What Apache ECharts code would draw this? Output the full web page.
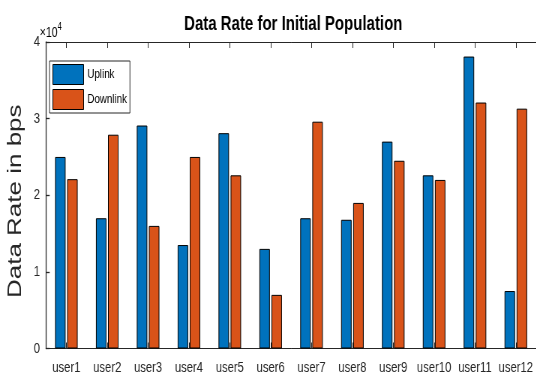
<!DOCTYPE html>
<html>
<head>
<meta charset="utf-8">
<script src="https://cdn.jsdelivr.net/npm/echarts@6/dist/echarts.min.js"></script>
<style>
  html, body { margin: 0; padding: 0; background: #fff; overflow: hidden; }
  #wrap { width: 536px; height: 378px; overflow: hidden; position: relative; }
  /* the figure is drawn wider and then narrowed horizontally */
  #chart { width: 715px; height: 378px; transform: scaleX(0.75); transform-origin: 0 0; }
</style>
</head>
<body>
<div id="wrap"><div id="chart"></div></div>
<script>
// Per-user data rates (bps)
const users = ['user1', 'user2', 'user3', 'user4', 'user5', 'user6',
               'user7', 'user8', 'user9', 'user10', 'user11', 'user12'];
const uplink   = [25000, 17000, 29100, 13500, 28100, 13000, 17000, 16800, 27000, 22600, 38100, 7500];
const downlink = [22100, 27900, 16000, 25000, 22600, 7000, 29600, 19000, 24500, 22000, 32100, 31300];
const yMin = 0, yMax = 40000, yStep = 10000;
const yScaleLabel = '×10';
const yScaleExp = '4';

const FONT = '"Liberation Sans", Arial, Helvetica, sans-serif';
const AX = '#262626';

const chart = echarts.init(document.getElementById('chart'), null, { renderer: 'canvas' });

chart.setOption({
  animation: false,
  backgroundColor: '#fff',
  title: {
    text: 'Data Rate for Initial Population',
    left: 386, top: 9, textAlign: 'center',
    textStyle: { fontFamily: FONT, fontSize: 20, fontWeight: 'bold', color: '#000' }
  },
  legend: {
    orient: 'vertical', left: 66, top: 61,
    itemWidth: 41, itemHeight: 20, itemGap: 4,
    padding: [3, 4, 3, 4],
    borderColor: AX, borderWidth: 1, backgroundColor: '#fff',
    icon: 'rect',
    textStyle: { fontFamily: FONT, fontSize: 13, color: '#000' },
    itemStyle: { borderColor: '#000', borderWidth: 1 },
    data: ['Uplink', 'Downlink']
  },
  graphic: [{
    type: 'text', left: 53, top: 22,
    style: {
      text: '{a|' + yScaleLabel + '}{b|' + yScaleExp + '}',
      rich: {
        a: { fontFamily: FONT, fontSize: 14, color: AX, verticalAlign: 'bottom' },
        b: { fontFamily: FONT, fontSize: 10, color: AX, verticalAlign: 'top', padding: [0, 0, 8, 0] }
      }
    }
  }],
  grid: { left: 52, top: 42, width: 667, height: 306.5, containLabel: false },
  xAxis: [{
    type: 'category', data: users, position: 'bottom',
    axisLine: { lineStyle: { color: AX, width: 1 } },
    axisTick: { show: true, inside: true, length: 6, alignWithLabel: true, lineStyle: { color: AX } },
    axisLabel: { fontFamily: FONT, fontSize: 15, color: AX, margin: 12, interval: 0 }
  }, {
    type: 'category', data: users, position: 'top',
    axisLine: { lineStyle: { color: AX, width: 1 } },
    axisTick: { show: true, inside: true, length: 6, alignWithLabel: true, lineStyle: { color: AX } },
    axisLabel: { show: false }
  }],
  yAxis: {
    type: 'value', min: yMin, max: yMax, interval: yStep,
    name: 'Data Rate in bps', nameLocation: 'middle', nameRotate: 90, nameGap: 16,
    nameTextStyle: { fontFamily: FONT, fontSize: 26, color: AX, padding: [0, 12, 0, 0] },
    axisLine: { show: true, lineStyle: { color: AX, width: 1.3 } },
    axisTick: { show: true, inside: true, length: 5, lineStyle: { color: AX, width: 1.3 } },
    axisLabel: { fontFamily: FONT, fontSize: 15, color: AX, margin: 8,
                 formatter: v => String(v / yStep) },
    splitLine: { show: false }
  },
  series: [{
    name: 'Uplink', type: 'bar', data: uplink, barWidth: 14, barGap: '15%',
    itemStyle: { color: '#0072BD', borderColor: '#000', borderWidth: 1 }
  }, {
    name: 'Downlink', type: 'bar', data: downlink, barWidth: 14,
    itemStyle: { color: '#D95319', borderColor: '#000', borderWidth: 1 }
  }]
});
</script>
</body>
</html>
